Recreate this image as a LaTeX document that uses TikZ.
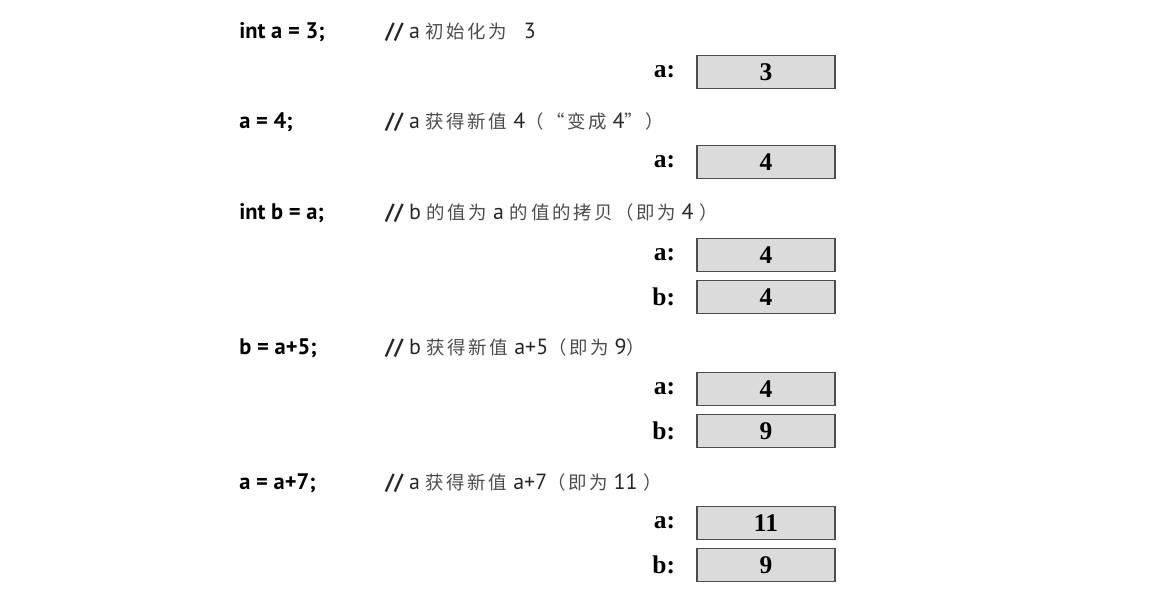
\documentclass[tikz,border=0pt]{standalone}
\usepackage{fontspec}
\setsansfont{PT Sans}
\newfontfamily\cjk[LetterSpace=14]{Noto Sans CJK SC}
\newfontfamily\numfont{Liberation Serif}
\usepackage{tikz}
\usetikzlibrary{positioning}

\begin{document}
\begin{tikzpicture}[x=0.02cm,y=-0.02cm,
    code/.style={anchor=west, inner sep=0pt, font=\sffamily\bfseries\fontsize{12.8}{14}\selectfont},
    remark/.style={anchor=west, inner sep=0pt, text=black!85, font=\sffamily\fontsize{12.5}{14}\selectfont},
    cell/.style={draw=black!70, fill=black!14, line width=0.6pt, minimum width=2.76cm, minimum height=0.66cm, inner sep=0pt, font=\numfont\bfseries\fontsize{14.5}{16}\selectfont},
    cellname/.style={left=0.42cm of #1, inner sep=0pt, font=\numfont\bfseries\fontsize{14.5}{16}\selectfont}]
      \useasboundingbox (0,0) rectangle (1152,601);
      \newcommand\zh[1]{{\cjk\color{black!70}\fontsize{10.5}{14}\selectfont #1}}
      % int a = 3;
      \node[code]   (c1) at (239, 32) {int a = 3;};
      \node[remark] (r1) at (385, 32) {{\bfseries //} a \zh{初始化为}\hspace{6pt} 3};
      \node[cell]   (a1) at (766, 72) {3};
      \node[cellname=a1] (na1) {a:};
      % a = 4;
      \node[code]   (c2) at (239,122) {a = 4;};
      \node[remark] (r2) at (385,122) {{\bfseries //} a \zh{获得新值} 4\zh{（“变成} 4\zh{”）}};
      \node[cell]   (a2) at (766,162) {4};
      \node[cellname=a2] (na2) {a:};
      % int b = a;
      \node[code]   (c3) at (239,213) {int b = a;};
      \node[remark] (r3) at (385,213) {{\bfseries //} b \zh{的值为} a \zh{的值的拷贝（即为} 4 \zh{）}};
      \node[cell]   (a3) at (766,255) {4};
      \node[cellname=a3] (na3) {a:};
      \node[cell]   (b3) at (766,297) {4};
      \node[cellname=b3] (nb3) {b:};
      % b = a+5;
      \node[code]   (c4) at (239,348) {b = a+5;};
      \node[remark] (r4) at (385,348) {{\bfseries //} b \zh{获得新值} a+5\zh{（即为} 9\zh{）}};
      \node[cell]   (a4) at (766,389) {4};
      \node[cellname=a4] (na4) {a:};
      \node[cell]   (b4) at (766,431) {9};
      \node[cellname=b4] (nb4) {b:};
      % a = a+7;
      \node[code]   (c5) at (239,483) {a = a+7;};
      \node[remark] (r5) at (385,483) {{\bfseries //} a \zh{获得新值} a+7\zh{（即为} 11 \zh{）}};
      \node[cell]   (a5) at (766,523) {11};
      \node[cellname=a5] (na5) {a:};
      \node[cell]   (b5) at (766,565) {9};
      \node[cellname=b5] (nb5) {b:};
\end{tikzpicture}
\end{document}
